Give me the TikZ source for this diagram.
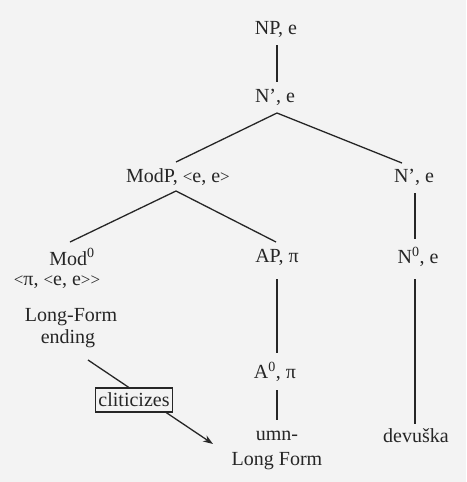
\documentclass[tikz,border=0pt]{standalone}
\usepackage{fontspec}
\setmainfont{Liberation Serif}
\usetikzlibrary{arrows.meta}
\newcommand\myla{{\fontsize{17}{17}\selectfont<}}
\newcommand\myra{{\fontsize{17}{17}\selectfont>}}
\begin{document}
\begin{tikzpicture}[x=1pt,y=-1pt,
  lbl/.style={inner sep=0pt, text=black!85, font=\fontsize{20}{23}\selectfont},
  edge/.style={draw=black!85, line width=1.3pt},
  boxed/.style={lbl, draw=black!85, line width=1.3pt, fill=bg, inner xsep=3pt, inner ysep=5pt}]
\definecolor{bg}{HTML}{F3F3F3}
\fill[bg] (0,0) rectangle (466,482);
\useasboundingbox (0,0) rectangle (466,482);
% nodes
\node[lbl] (np) at (276,29) {NP, e};
\node[lbl] (n1) at (275,97) {N', e};
\node[lbl] (modp) at (178,177) {ModP, \myla e, e\myra};
\node[lbl] (n2) at (414,177) {N', e};
\node[lbl] (mod0) at (72,257) {Mod\textsuperscript{0}};
\node[lbl] (modtype) at (57,282) {\myla π, \myla e, e\myra\myra};
\node[lbl] (ap) at (277,257) {AP, π};
\node[lbl] (n0) at (418,257) {N\textsuperscript{0}, e};
\node[lbl] (lf1) at (71,317) {Long-Form};
\node[lbl] (lf2) at (68,339) {ending};
\node[lbl] (a0) at (275,372) {A\textsuperscript{0}, π};
\node[lbl] (umn) at (277,436) {umn-};
\node[lbl] (lform) at (277,461) {Long Form};
\node[lbl] (dev) at (416,436) {devuška};
% connector coordinates
\coordinate (npb) at (277,45);
\coordinate (n1t) at (277,82);
\coordinate (n1b) at (277,113);
\coordinate (modpt) at (176,162);
\coordinate (n2t) at (402,163);
\coordinate (modpb) at (176,191);
\coordinate (mod0t) at (70,242);
\coordinate (apt) at (276,242);
\coordinate (n2b) at (415,193);
\coordinate (n0t) at (415,239);
\coordinate (apb) at (277,279);
\coordinate (a0t) at (277,353);
\coordinate (a0b) at (277,390);
\coordinate (umnt) at (277,420);
\coordinate (n0b) at (415,279);
\coordinate (devt) at (415,424);
\coordinate (arrs) at (88,360);
\coordinate (arre) at (213,444);
% connectors
\draw[edge] (npb) -- (n1t);
\draw[edge] (modpt) -- (n1b) -- (n2t);
\draw[edge] (mod0t) -- (modpb) -- (apt);
\draw[edge] (n2b) -- (n0t);
\draw[edge] (apb) -- (a0t);
\draw[edge] (a0b) -- (umnt);
\draw[edge] (n0b) -- (devt);
\draw[edge, -{Stealth[length=10pt,width=7pt]}] (arrs) -- (arre);
\node[boxed] (clit) at (134,400) {cliticizes};
\end{tikzpicture}
\end{document}
